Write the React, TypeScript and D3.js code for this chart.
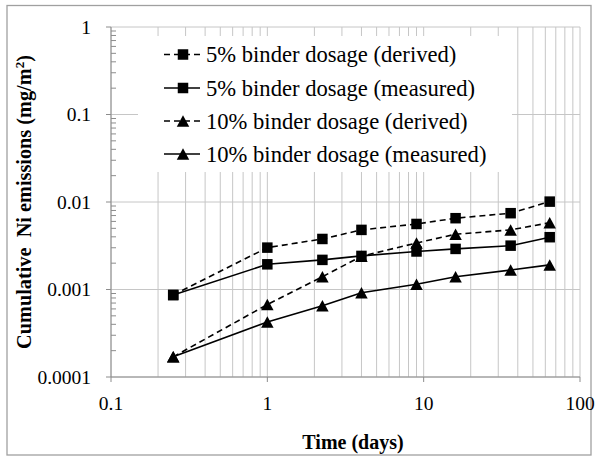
import React from "react";
import * as d3 from "d3";

const days = [0.25, 1, 2.25, 4, 9, 16, 36, 64];
const binder5Derived = [0.000865, 0.00301, 0.00378, 0.0048, 0.00561, 0.00653, 0.00745, 0.0101];
const binder5Measured = [0.000865, 0.00194, 0.00218, 0.00242, 0.00272, 0.00291, 0.00317, 0.00396];
const binder10Derived = [0.00017, 0.000673, 0.0014, 0.0024, 0.0034, 0.00428, 0.0048, 0.0058];
const binder10Measured = [0.00017, 0.000425, 0.000653, 0.00092, 0.00115, 0.0014, 0.00167, 0.00191];

const seriesNames = [
  "5% binder dosage (derived)",
  "5% binder dosage (measured)",
  "10% binder dosage (derived)",
  "10% binder dosage (measured)",
];
const xTicks = [0.1, 1, 10, 100];
const xTickLabels = ["0.1", "1", "10", "100"];
const yTicks = [0.0001, 0.001, 0.01, 0.1, 1];
const yTickLabels = ["0.0001", "0.001", "0.01", "0.1", "1"];

const W = 597;
const H = 457;
const L = 111, R = 580, T = 27, B = 377;
const FONT = "'Liberation Serif', 'Times New Roman', serif";

const x = d3.scaleLog().domain([0.1, 100]).range([L, R]);
const y = d3.scaleLog().domain([0.0001, 1]).range([B, T]);

type Series = { name: string; values: number[]; dashed: boolean; marker: "square" | "triangle" };
const series: Series[] = [
  { name: seriesNames[0], values: binder5Derived, dashed: true, marker: "square" },
  { name: seriesNames[1], values: binder5Measured, dashed: false, marker: "square" },
  { name: seriesNames[2], values: binder10Derived, dashed: true, marker: "triangle" },
  { name: seriesNames[3], values: binder10Measured, dashed: false, marker: "triangle" },
];

function Marker({ kind, cx, cy }: { kind: "square" | "triangle"; cx: number; cy: number }) {
  if (kind === "square") {
    const s = 10.5;
    return <rect x={cx - s / 2} y={cy - s / 2} width={s} height={s} fill="#000" />;
  }
  const w = 12.5, h = 11.5;
  return (
    <path
      d={`M${cx},${cy - h / 2}L${cx + w / 2},${cy + h / 2}L${cx - w / 2},${cy + h / 2}Z`}
      fill="#000"
    />
  );
}

export default function App() {
  const minor: number[] = [];
  [0.1, 1, 10].forEach((d) => {
    for (let k = 1; k <= 9; k++) minor.push(k * d);
  });
  minor.push(100);

  const yMinor: number[] = [];
  [0.0001, 0.001, 0.01, 0.1].forEach((d) => {
    for (let k = 2; k <= 9; k++) yMinor.push(k * d);
  });

  const line = d3
    .line<number>()
    .x((_, i) => x(days[i]))
    .y((v) => y(v));

  const legendX1 = 164, legendX2 = 200, legendMarkerX = 183, legendTextX = 206;
  const legendRows = [54.5, 88, 121, 154];

  const gridColor = "#c6c6c6";
  const axisColor = "#8c8c8c";

  return (
    <svg
      width={W}
      height={H}
      style={{ position: "absolute", left: 0, top: 0, background: "#fff" }}
      fontFamily={FONT}
    >
      <rect x={0} y={0} width={W} height={H} fill="#fff" />
      <rect x={7} y={5.5} width={584} height={449.5} fill="none" stroke="#a0a0a0" strokeWidth={1.3} />

      {/* vertical gridlines */}
      {minor.map((v, i) => (
        <line key={"vg" + i} x1={x(v)} x2={x(v)} y1={T} y2={B} stroke={gridColor} strokeWidth={1} />
      ))}
      {/* horizontal gridlines */}
      {yTicks.map((v, i) => (
        <line key={"hg" + i} x1={L} x2={R} y1={y(v)} y2={y(v)} stroke={gridColor} strokeWidth={1} />
      ))}

      {/* legend background */}
      <rect x={138} y={36} width={374} height={136} fill="#fff" />

      {/* axes */}
      <line x1={L} x2={L} y1={T} y2={B} stroke={axisColor} strokeWidth={1} />
      <line x1={L} x2={R} y1={B} y2={B} stroke={axisColor} strokeWidth={1} />
      {yTicks.map((v, i) => (
        <line key={"yt" + i} x1={L - 5} x2={L} y1={y(v)} y2={y(v)} stroke={axisColor} strokeWidth={1} />
      ))}
      {yMinor.map((v, i) => (
        <line key={"ym" + i} x1={L} x2={L + 5} y1={y(v)} y2={y(v)} stroke={axisColor} strokeWidth={1} />
      ))}
      {xTicks.map((v, i) => (
        <line key={"xt" + i} x1={x(v)} x2={x(v)} y1={B} y2={B + 5} stroke={axisColor} strokeWidth={1} />
      ))}

      {/* tick labels */}
      {yTicks.map((v, i) => (
        <text key={"yl" + i} x={91} y={y(v)} dy="0.35em" textAnchor="end" fontSize={19.5} fill="#000">
          {yTickLabels[i]}
        </text>
      ))}
      {xTicks.map((v, i) => (
        <text key={"xl" + i} x={x(v)} y={403} dy="0.35em" textAnchor="middle" fontSize={19.5} fill="#000">
          {xTickLabels[i]}
        </text>
      ))}

      {/* axis titles */}
      <text x={353} y={442} dy="0.35em" textAnchor="middle" fontSize={20} fontWeight="bold" fill="#000">
        Time (days)
      </text>
      <text
        transform={`translate(24,202) rotate(-90)`}
        textAnchor="middle"
        dy="0.35em"
        fontSize={20.3}
        fontWeight="bold"
        fill="#000"
      >
        <tspan>Cumulative&#160; Ni emissions (mg/m</tspan>
        <tspan dy="-7" fontSize={13}>2</tspan>
        <tspan dy="7">)</tspan>
      </text>

      {/* series */}
      {series.map((s, si) => (
        <g key={"s" + si}>
          <path
            d={line(s.values) || ""}
            fill="none"
            stroke="#000"
            strokeWidth={1.6}
            strokeDasharray={s.dashed ? "6,4" : undefined}
          />
          {s.values.map((v, i) => (
            <Marker key={i} kind={s.marker} cx={x(days[i])} cy={y(v)} />
          ))}
        </g>
      ))}

      {/* legend */}
      {series.map((s, si) => (
        <g key={"lg" + si}>
          <line
            x1={legendX1}
            x2={legendX2}
            y1={legendRows[si]}
            y2={legendRows[si]}
            stroke="#000"
            strokeWidth={1.6}
            strokeDasharray={s.dashed ? "6,4" : undefined}
          />
          <Marker kind={s.marker} cx={legendMarkerX} cy={legendRows[si]} />
          <text x={legendTextX} y={legendRows[si]} dy="0.35em" fontSize={22.6} fill="#000">
            {s.name}
          </text>
        </g>
      ))}
    </svg>
  );
}
